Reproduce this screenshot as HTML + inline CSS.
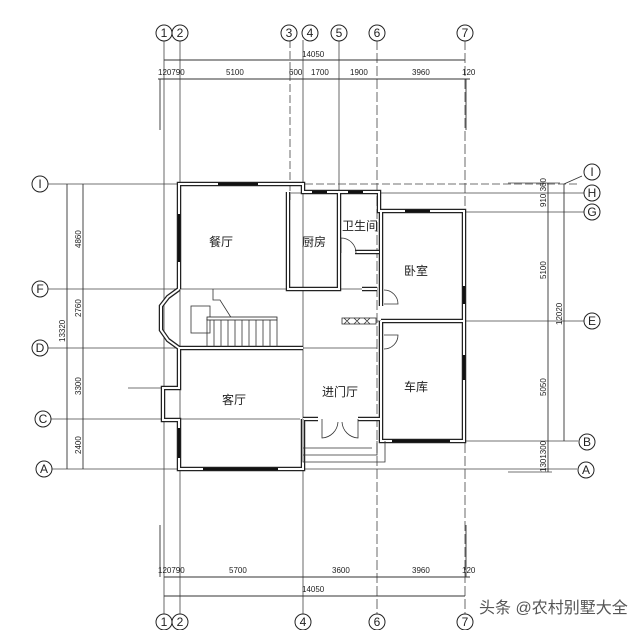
<!DOCTYPE html>
<html><head><meta charset="utf-8"><style>
html,body{margin:0;padding:0;background:#fff;width:640px;height:630px;overflow:hidden}
svg{display:block}
text{font-family:"Liberation Sans","Noto Sans CJK SC",sans-serif;fill:#222}
.c{fill:#fff;stroke:#222;stroke-width:1}
.ax{stroke:#444;stroke-width:0.8;fill:none}
.d{stroke:#333;stroke-width:0.9;fill:none}
.t{stroke:#333;stroke-width:0.8;fill:none}
.sm{font-size:8px}
.lab{font-size:12px}
.cl{font-size:12px;text-anchor:middle}
</style></head><body>
<svg width="640" height="630" viewBox="0 0 640 630">
<defs>
<path id="w1" d="M179,289 L179,184 L303,184 L303,192 L379,192 L379,211 L464,211 L464,441 L381,441 L381,321 M381,321 L464,321 M381,211 L381,306 M381,335 L381,441 M288,192 L288,289 L339,289 L339,192 M355,252 L379,252 M179,348 L179,388 L163,388 L163,420 L179,420 L179,469 L303,469 L303,419 M179,348 L303,348 M303,419 L318,419 M358,419 L381,419 L381,441 M179,289 L168,297 L161,306 L161,330 L168,340 L179,348 M362,289 L377,289"/>
</defs>
<!-- vertical axes -->
<g class="ax">
<line x1="164" y1="40" x2="164" y2="614"/><line x1="180" y1="40" x2="180" y2="614"/>
<line x1="290" y1="40" x2="290" y2="200" stroke-dasharray="8 3"/>
<line x1="303" y1="40" x2="303" y2="614"/>
<line x1="339" y1="40" x2="339" y2="290"/>
<line x1="377" y1="40" x2="377" y2="614" stroke-dasharray="10 3"/>
<line x1="465" y1="40" x2="465" y2="614" stroke-dasharray="10 3"/>
<line x1="48" y1="184" x2="305" y2="184"/><line x1="305" y1="184" x2="580" y2="184" stroke-dasharray="8 3"/>
<line x1="290" y1="193" x2="584" y2="193"/>
<line x1="465" y1="212" x2="584" y2="212"/>
<line x1="48" y1="289" x2="377" y2="289"/>
<line x1="377" y1="321" x2="584" y2="321"/>
<line x1="48" y1="348" x2="377" y2="348"/>
<line x1="50" y1="419" x2="300" y2="419"/>
<line x1="385" y1="441" x2="578" y2="441"/>
<line x1="52" y1="469" x2="577" y2="469"/>
<line x1="128" y1="388" x2="163" y2="388"/>
<line x1="508" y1="183" x2="560" y2="183"/>
<line x1="508" y1="472" x2="552" y2="472"/>
</g>
<g class="d">
<line x1="164" y1="60" x2="465" y2="60"/>
<line x1="158" y1="79" x2="470" y2="79"/>
<line x1="160" y1="79" x2="160" y2="130"/><line x1="466" y1="79" x2="466" y2="130"/>
<line x1="164" y1="577" x2="470" y2="577"/>
<line x1="164" y1="596" x2="465" y2="596"/>
<line x1="160" y1="525" x2="160" y2="577"/><line x1="466" y1="525" x2="466" y2="577"/>
<line x1="67" y1="184" x2="67" y2="469"/><line x1="83" y1="184" x2="83" y2="469"/>
<line x1="548" y1="183" x2="548" y2="472"/><line x1="564" y1="184" x2="564" y2="441"/>
<line x1="564" y1="184" x2="582" y2="176"/>
</g>
<g class="sm">
<text x="302" y="57">14050</text>
<text x="158" y="75">120790</text><text x="226" y="75">5100</text><text x="289" y="75">600</text>
<text x="311" y="75">1700</text><text x="350" y="75">1900</text><text x="412" y="75">3960</text><text x="462" y="75">120</text>
<text x="158" y="573">120790</text><text x="229" y="573">5700</text><text x="332" y="573">3600</text>
<text x="412" y="573">3960</text><text x="462" y="573">120</text>
<text x="302" y="592">14050</text>
<text transform="translate(81,248) rotate(-90)">4860</text>
<text transform="translate(81,317) rotate(-90)">2760</text>
<text transform="translate(81,395) rotate(-90)">3300</text>
<text transform="translate(81,454) rotate(-90)">2400</text>
<text transform="translate(65,342) rotate(-90)">13320</text>
<text transform="translate(546,207) rotate(-90)">910 360</text>
<text transform="translate(546,279) rotate(-90)">5100</text>
<text transform="translate(562,325) rotate(-90)">12020</text>
<text transform="translate(546,396) rotate(-90)">5050</text>
<text transform="translate(546,472) rotate(-90)">1301300</text>
</g>
<g>
<g class="c"><circle cx="164" cy="33" r="8"/><circle cx="180" cy="33" r="8"/><circle cx="289" cy="33" r="8"/><circle cx="310" cy="33" r="8"/><circle cx="339" cy="33" r="8"/><circle cx="377" cy="33" r="8"/><circle cx="465" cy="33" r="8"/>
<circle cx="164" cy="622" r="8"/><circle cx="180" cy="622" r="8"/><circle cx="303" cy="622" r="8"/><circle cx="377" cy="622" r="8"/><circle cx="465" cy="622" r="8"/>
<circle cx="40" cy="184" r="8"/><circle cx="40" cy="289" r="8"/><circle cx="40" cy="348" r="8"/><circle cx="43" cy="419" r="8"/><circle cx="44" cy="469" r="8"/>
<circle cx="592" cy="172" r="8"/><circle cx="592" cy="193" r="8"/><circle cx="592" cy="212" r="8"/><circle cx="592" cy="321" r="8"/><circle cx="587" cy="442" r="8"/><circle cx="586" cy="470" r="8"/></g>
<g class="cl">
<text x="164" y="37">1</text><text x="180" y="37">2</text><text x="289" y="37">3</text><text x="310" y="37">4</text><text x="339" y="37">5</text><text x="377" y="37">6</text><text x="465" y="37">7</text>
<text x="164" y="626">1</text><text x="180" y="626">2</text><text x="303" y="626">4</text><text x="377" y="626">6</text><text x="465" y="626">7</text>
<text x="40" y="188">I</text><text x="40" y="293">F</text><text x="40" y="352">D</text><text x="43" y="423">C</text><text x="44" y="473">A</text>
<text x="592" y="176">I</text><text x="592" y="197">H</text><text x="592" y="216">G</text><text x="592" y="325">E</text><text x="587" y="446">B</text><text x="586" y="474">A</text>
</g></g>
<!-- walls (double line) -->
<use href="#w1" fill="none" stroke="#222" stroke-width="4.5"/>
<use href="#w1" fill="none" stroke="#fff" stroke-width="2"/>
<path d="M303,419 L303,462 L385,462 L385,441 M303,455 L377,455 L377,441 M303,448 L372,448" class="t"/>
<g stroke="#111" stroke-width="2.5"><line x1="218" y1="184" x2="258" y2="184"/><line x1="312" y1="192" x2="327" y2="192"/><line x1="348" y1="192" x2="363" y2="192"/><line x1="405" y1="211" x2="430" y2="211"/><line x1="179" y1="214" x2="179" y2="262"/><line x1="464" y1="286" x2="464" y2="304"/><line x1="464" y1="355" x2="464" y2="380"/><line x1="392" y1="441" x2="450" y2="441"/><line x1="179" y1="428" x2="179" y2="458"/><line x1="203" y1="469" x2="278" y2="469"/></g>
<g class="t">
<path d="M341,238 A15,15 0 0 1 356,253 M341,238 L341,253"/>
<path d="M384,290 A14,14 0 0 1 398,304 L384,304"/>
<path d="M384,349 A14,14 0 0 0 398,335 L384,335"/>
<path d="M322,419 L322,438 A17,17 0 0 0 338,422 M358,419 L358,438 A17,17 0 0 1 342,422"/>
<rect x="342" y="318" width="34" height="6"/>
<path d="M344,318 l6,6 M350,318 l-6,6 M354,318 l6,6 M360,318 l-6,6 M364,318 l6,6 M370,318 l-6,6"/>
<rect x="191" y="306" width="19" height="27"/>
<path d="M213,289 L213,300 L220,300 L232,319 M207,319 L207,347"/>
<rect x="207" y="317" width="70" height="3" fill="#fff" stroke="#222"/>
<path d="M214,320V347M221,320V347M228,320V347M235,320V347M242,320V347M249,320V347M256,320V347M263,320V347M270,320V347M277,320V347"/>
</g>
<g class="lab">
<text x="209" y="246">餐厅</text><text x="302" y="246">厨房</text><text x="342" y="230">卫生间</text>
<text x="404" y="275">卧室</text><text x="322" y="396">进门厅</text><text x="404" y="391">车库</text><text x="222" y="404">客厅</text>
</g>
<text x="479" y="613" style="font-size:16px;fill:#555">头条 @农村别墅大全</text>
</svg>
</body></html>
